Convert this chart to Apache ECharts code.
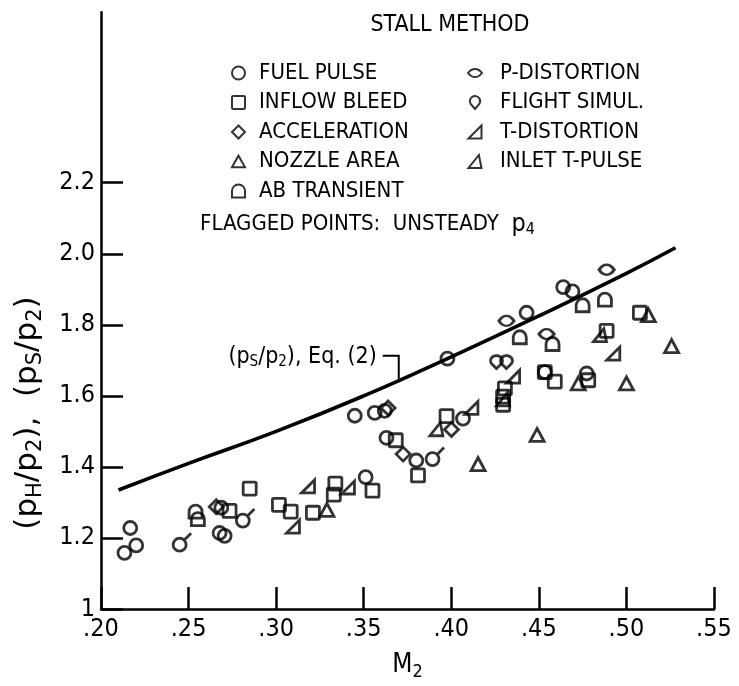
<!DOCTYPE html>
<html><head><meta charset="utf-8">
<script src="https://cdn.jsdelivr.net/npm/echarts@6/dist/echarts.min.js"></script>
<style>html,body{margin:0;padding:0;background:#fff}#c{width:739px;height:686px}</style>
</head><body><div id="c"></div>
<script>
const FONT = '"Liberation Sans Narrow","DejaVu Sans Condensed","Roboto",sans-serif';
const WIDE = '"DejaVu Sans","Liberation Sans",sans-serif';

const xTickValues = [0.20, 0.25, 0.30, 0.35, 0.40, 0.45, 0.50, 0.55];
const yTickValues = [1, 1.2, 1.4, 1.6, 1.8, 2.0, 2.2];

// Eq. (2) curve (pS/p2)
const curveM = [0.21, 0.25, 0.30, 0.35, 0.40, 0.45, 0.50, 0.528];
const curveP = [1.335, 1.41, 1.50, 1.60, 1.71, 1.825, 1.945, 2.017];

const fuelPulse = [[0.2167,1.228],[0.2134,1.158],[0.2201,1.179],[0.2677,1.214],[0.2706,1.206],[0.2687,1.285],
  [0.3449,1.544],[0.3511,1.371],[0.3563,1.552],[0.362,1.558],[0.363,1.482],[0.380,1.418],[0.3978,1.705],
  [0.4067,1.536],[0.443,1.834],[0.4639,1.906],[0.4692,1.894],[0.4773,1.663],[0.4534,1.667]];
const fuelPulseFlagged = [[0.2449,1.181],[0.281,1.249],[0.3893,1.422]];
const inflowBleed = [[0.2734,1.276],[0.2849,1.339],[0.3016,1.293],[0.3083,1.274],[0.321,1.271],[0.3338,1.353],
  [0.3329,1.322],[0.355,1.333],[0.3683,1.475],[0.381,1.376],[0.3973,1.543],[0.4306,1.621],[0.4296,1.598],
  [0.4296,1.575],[0.4591,1.64],[0.4534,1.667],[0.4782,1.644],[0.4887,1.783],[0.5077,1.834]];
const acceleration = [[0.2658,1.288],[0.3639,1.566],[0.3725,1.436],[0.4001,1.505]];
const nozzleArea = [[0.329,1.279],[0.4153,1.408],[0.449,1.49],[0.4725,1.635],[0.500,1.635],[0.5258,1.74],[0.5125,1.827]];
const abTransient = [[0.254,1.274],[0.2553,1.253],[0.4391,1.765],[0.475,1.855],[0.4877,1.871],[0.4578,1.746]];
const pDistortion = [[0.4887,1.955],[0.4315,1.811],[0.4544,1.774]];
const flightSimul = [[0.4258,1.695],[0.4315,1.695]];
const tDistortion = [[0.3096,1.232],[0.3182,1.345],[0.341,1.342],[0.4115,1.566],[0.4353,1.654],[0.4925,1.719]];
const inletTPulse = [[0.3915,1.506],[0.4849,1.771],[0.4296,1.59]];

const legendLeft = ['FUEL PULSE','INFLOW BLEED','ACCELERATION','NOZZLE AREA','AB TRANSIENT'];
const legendRight = ['P-DISTORTION','FLIGHT SIMUL.','T-DISTORTION','INLET T-PULSE'];

const eqAnchor = [0.370, 1.648];

const SYM = {
  circle: 'circle',
  square: 'path://M1,0 L9,0 Q10,0 10,1 L10,9 Q10,10 9,10 L1,10 Q0,10 0,9 L0,1 Q0,0 1,0 Z',
  diamond: 'path://M5,0 L10,5 L5,10 L0,5 Z',
  triangle: 'path://M5,0 L10,9 L0,9 Z',
  ab: 'path://M0,10 L0,5 A5,5 0 0 1 10,5 L10,10 Z',
  pdist: 'path://M0,4 Q3,0 7,0 Q11,0 14,4 Q11,8 7,8 Q3,8 0,4 Z',
  flight: 'path://M5,11 L1.2,6.5 A4.5,4.5 0 1 1 8.8,6.5 Z',
  tdist: 'path://M0,10 L10,10 L10,0 Z',
  inlet: 'path://M0,10 L10,10 L8,0 Z',
  flag: 'path://M9.5,9 A4.5,4.5 0 1 1 0.5,9 A4.5,4.5 0 1 1 9.5,9 Z M8.2,5.8 L13,1'
};
const hollow = {color:'rgba(255,255,255,0)', borderColor:'#000', borderWidth:2.8};

function sc(name, data, symbol, size, extra) {
  return Object.assign({type:'scatter', name, data, symbol, symbolSize:size, itemStyle:hollow,
    emphasis:{disabled:true}, z:3}, extra||{});
}

const chart = echarts.init(document.getElementById('c'));
const option = {
  backgroundColor:'#fff',
  animation:false,
  grid:{left:101, right:25, top:12.2, bottom:69},
  xAxis:{type:'value', min:0.2, max:0.55, interval:0.05,
    axisLine:{lineStyle:{color:'#000', width:2.5}},
    axisTick:{inside:true, length:22, lineStyle:{color:'#000', width:2.5}},
    splitLine:{show:false},
    axisLabel:{color:'#000', fontFamily:FONT, fontSize:25, margin:8,
      formatter:v=>'.'+Math.round(v*100)},
    name:'{m|M}{s|2}', nameLocation:'middle', nameGap:40,
    nameTextStyle:{rich:{m:{fontFamily:FONT,fontSize:26,color:'#000'},s:{fontFamily:FONT,fontSize:18,color:'#000',padding:[14,0,0,0]}}}
  },
  yAxis:{type:'value', min:1, max:2.68, interval:0.2,
    axisLine:{show:true, lineStyle:{color:'#000', width:2.5}},
    axisTick:{show:true, inside:true, length:22, customValues:yTickValues, lineStyle:{color:'#000', width:2.5}},
    splitLine:{show:false},
    axisLabel:{color:'#000', fontFamily:FONT, fontSize:25, margin:6, customValues:yTickValues,
      formatter:v=>(Math.abs(v-1)<1e-9?'1':v.toFixed(1))}
  },
  legend:[
    {data:legendLeft, orient:'vertical', left:226, top:56, itemGap:5.5, itemWidth:13, itemHeight:13,
      textStyle:{fontFamily:FONT, fontSize:22, color:'#000', lineHeight:24, padding:[0,0,0,9]}, selectedMode:false},
    {data:legendRight, orient:'vertical', left:462, top:56, itemGap:5.5, itemWidth:14, itemHeight:13,
      textStyle:{fontFamily:FONT, fontSize:22, color:'#000', lineHeight:24, padding:[0,0,0,13]}, selectedMode:false}
  ],
  series:[
    {type:'line', name:'Eq2', data:curveM.map((m,i)=>[m,curveP[i]]), smooth:true, showSymbol:false,
      lineStyle:{color:'#000', width:3.6}, z:2, silent:true},
    sc('FUEL PULSE', fuelPulse, SYM.circle, 13),
    sc('FUEL PULSE flagged', fuelPulseFlagged, SYM.flag, 18, {symbolOffset:[2.5,-2.5]}),
    sc('INFLOW BLEED', inflowBleed, SYM.square, 13),
    sc('ACCELERATION', acceleration, SYM.diamond, 14),
    sc('NOZZLE AREA', nozzleArea, SYM.triangle, [14,13]),
    sc('AB TRANSIENT', abTransient, SYM.ab, 13),
    sc('P-DISTORTION', pDistortion, SYM.pdist, [15,10]),
    sc('FLIGHT SIMUL.', flightSimul, SYM.flight, [12,13]),
    sc('T-DISTORTION', tDistortion, SYM.tdist, 13),
    sc('INLET T-PULSE', inletTPulse, SYM.inlet, 13)
  ]
};
chart.setOption(option);

function place() {
  const p = chart.convertToPixel({gridIndex:0}, eqAnchor);
  chart.setOption({graphic:[
    {type:'text', style:{text:'STALL METHOD', x:450, y:25, fontFamily:FONT, fontSize:23, fill:'#000', align:'center', verticalAlign:'middle'}},
    {type:'text', style:{text:'FLAGGED POINTS:  UNSTEADY  {p|p}{s|4}', x:200, y:224, fontFamily:FONT, fontSize:22, fill:'#000', verticalAlign:'middle',
      rich:{p:{fontFamily:FONT,fontSize:25,fill:'#000'}, s:{fontFamily:FONT,fontSize:16,fill:'#000',padding:[12,0,0,0]}}}},
    {type:'text', x:28, y:413, rotation:Math.PI/2,
      style:{text:'{a|(p}{s|H}{a|/p}{s|2}{a|),  (p}{s|S}{a|/p}{s|2}{a|)}', align:'center', verticalAlign:'middle',
      rich:{a:{fontFamily:WIDE,fontSize:31,fill:'#000'}, s:{fontFamily:WIDE,fontSize:21,fill:'#000',padding:[15,0,0,0]}}}},
    {type:'polyline', shape:{points:[[p[0]-16,p[1]-23],[p[0],p[1]-23],[p[0],p[1]]]}, style:{stroke:'#000', lineWidth:2, fill:null}},
    {type:'text', style:{text:'{a|(p}{s|S}{a|/p}{s|2}{a|), Eq. (2)}', x:p[0]-22, y:p[1]-22, align:'right', verticalAlign:'middle',
      rich:{a:{fontFamily:FONT,fontSize:23,fill:'#000'}, s:{fontFamily:FONT,fontSize:15,fill:'#000',padding:[11,0,0,0]}}}}
  ]});
}
place();
</script></body></html>
